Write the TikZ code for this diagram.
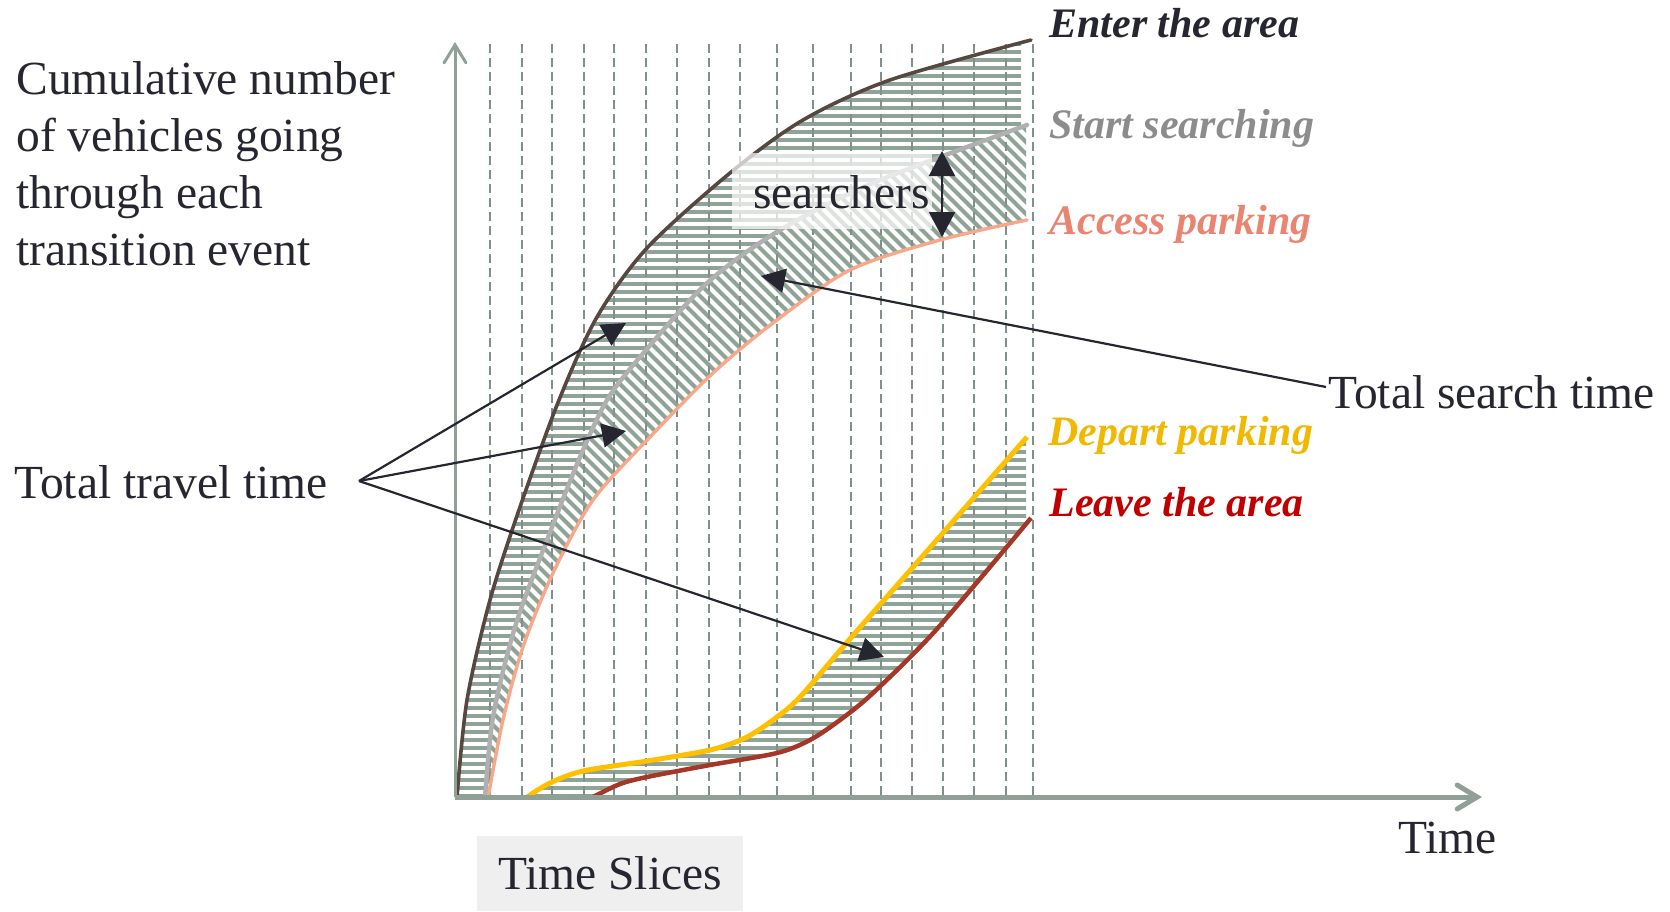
\documentclass[tikz,border=0pt]{standalone}
\usepackage{fontspec}
\setmainfont{Liberation Serif}
\usetikzlibrary{arrows.meta}

% palette
\definecolor{ink}{HTML}{262630}
\definecolor{axisc}{HTML}{8FA096}
\definecolor{hatchc}{HTML}{8FA396}
\definecolor{dashc}{HTML}{7F9188}
\definecolor{enterc}{HTML}{574741}
\definecolor{startc}{HTML}{B0B0B0}
\definecolor{accessc}{HTML}{F8A88A}
\definecolor{departc}{HTML}{FFC000}
\definecolor{leavec}{HTML}{A53728}
\definecolor{startlab}{HTML}{8C8C8C}
\definecolor{accesslab}{HTML}{E8846F}
\definecolor{departlab}{HTML}{F0B800}
\definecolor{leavelab}{HTML}{C00000}
\definecolor{slicebg}{HTML}{EFEFEF}

% cumulative curves (pixel units, y grows downwards)
\newcommand\enterCurve{plot[smooth] coordinates {(457,797) (467,700) (490,600) (520,507) (559,400) (597,317) (647,248) (730,173) (803,120) (890,80) (1031,40)}}
\newcommand\startCurve{plot[smooth] coordinates {(485,798) (493,717) (515,627) (547,540) (580,457) (607,400) (640,357) (707,283) (780,230) (873,183) (1027,125)}}
\newcommand\accessCurve{plot[smooth] coordinates {(488,798) (503,720) (523,647) (553,573) (593,500) (650,437) (713,373) (773,323) (850,270) (940,240) (1027,220)}}
\newcommand\departCurve{plot[smooth] coordinates {(527,797) (550,783) (583,771) (647,761) (710,750) (745,738) (773,720) (800,697) (849,640) (928,550) (1027,437)}}
\newcommand\leaveCurve{plot[smooth] coordinates {(593,797) (620,784) (647,777) (710,765) (777,753) (810,740) (840,720) (873,693) (936,630) (1031,518)}}

\tikzset{
  hatchline/.style={draw=hatchc, line width=2pt, line cap=butt},
  slice/.style={draw=dashc, line width=1pt, dash pattern=on 4.5pt off 2.5pt},
  curve/.style={line cap=round, line join=round},
  txt/.style={anchor=base west, inner sep=0pt, text=ink, font=\fontsize{23.75}{28.5}\selectfont},
  lbl/.style={anchor=base west, inner sep=0pt, font=\fontsize{21}{25}\selectfont\bfseries\itshape},
  ptr/.style={draw=ink, line width=1.1pt, -{Triangle[length=12pt,width=12pt]}},
  dptr/.style={draw=ink, line width=1.1pt, {Triangle[length=12.5pt,width=13pt]}-{Triangle[length=12.5pt,width=13pt]}},
}

\begin{document}
\begin{tikzpicture}[x=0.5pt, y=-0.5pt]
\useasboundingbox (0,0) rectangle (1670,911);

% "Time Slices" caption box
\node[fill=slicebg, inner sep=0pt, minimum width=133pt, minimum height=37.5pt,
      text=ink, font=\fontsize{23.75}{28.5}\selectfont] (slices) at (610,873.5) {Time Slices};

% travel band between entering and starting to search
\begin{scope}
  \clip \enterCurve -- (1200,40) -- (1200,820) -- cycle;
  \clip \startCurve -- (1027,0) -- (300,0) -- (300,820) -- cycle;
  \clip (440,30) rectangle (1021,797);
  \foreach \y in {44,52,...,796} \draw[hatchline] (440,\y) -- (1040,\y);
\end{scope}

% search band between starting to search and accessing parking
\begin{scope}
  \clip \startCurve -- (1200,125) -- (1200,820) -- cycle;
  \clip \accessCurve -- (1027,0) -- (300,0) -- (300,820) -- cycle;
  \clip (440,30) rectangle (1026,797);
  \foreach \c in {-700,-688,...,1100} \draw[hatchline] (\c,0) -- ++(900,900);
\end{scope}

% exit band between departing parking and leaving
\begin{scope}
  \clip \departCurve -- (1200,437) -- (1200,820) -- cycle;
  \clip \leaveCurve -- (1031,300) -- (300,300) -- (300,820) -- cycle;
  \clip (440,30) rectangle (1026,795);
  \foreach \y in {436,444,...,796} \draw[hatchline] (440,\y) -- (1040,\y);
\end{scope}

% time slices
\foreach \x in {490,522,552,584,614,646,677,709,740,777,813,851,881,912,943,974,1006,1033}
  \draw[slice] (\x,44) -- (\x,795);

% cumulative curves
\draw[curve, draw=enterc, line width=1.8pt] \enterCurve;
\draw[curve, draw=startc, line width=2.2pt] \startCurve;
\draw[curve, draw=accessc, line width=1.7pt] \accessCurve;
\draw[curve, draw=departc, line width=2.5pt, line cap=butt] \departCurve;
\draw[curve, draw=leavec, line width=2.25pt, line cap=butt] \leaveCurve;

% axes
\coordinate (origin) at (455,797);
\coordinate (ytip) at (455,42);
\coordinate (xtip) at (1482,797);
\draw[draw=axisc, line width=1.5pt, -{Straight Barb[length=9pt,width=11pt,line cap=round]}] (origin) -- (ytip);
\draw[draw=axisc, line width=2.5pt, -{Straight Barb[length=10pt,width=12pt,line cap=round]}] (origin) -- (xtip);

% searchers highlight
\fill[white, opacity=0.7] (732,153) rectangle (932,229);
\node[txt] (searchers) at (753,208) {searchers};
\coordinate (sa) at (942,151);
\coordinate (sb) at (942,237);
\draw[dptr] (sa) -- (sb);

% vertical axis description
\node[txt] (yl1) at (16,94) {Cumulative number};
\node[txt] (yl2) at (16,151) {of vehicles going};
\node[txt] (yl3) at (16,208) {through each};
\node[txt] (yl4) at (16,265) {transition event};

% horizontal axis label
\node[txt] (timelab) at (1398,853) {Time};

% curve labels
\node[lbl, text=ink] (lenter) at (1049,37) {Enter the area};
\node[lbl, text=startlab] (lstart) at (1049,138) {Start searching};
\node[lbl, text=accesslab] (laccess) at (1049,234) {Access parking};
\node[lbl, text=departlab] (ldepart) at (1048,445) {Depart parking};
\node[lbl, text=leavelab] (lleave) at (1049,516) {Leave the area};

% total travel time callout
\node[txt] (ttravel) at (14,498) {Total travel time};
\coordinate (tt0) at (359,481);
\coordinate (tt1) at (626,323);
\coordinate (tt2) at (626,431);
\coordinate (tt3) at (884,657);
\draw[ptr] (tt0) -- (tt1);
\draw[ptr] (tt0) -- (tt2);
\draw[ptr] (tt0) -- (tt3);

% total search time callout
\node[txt] (tsearch) at (1328,408) {Total search time};
\coordinate (ts0) at (1326,387);
\coordinate (ts1) at (761,276);
\draw[ptr] (ts0) -- (ts1);
\end{tikzpicture}
\end{document}
